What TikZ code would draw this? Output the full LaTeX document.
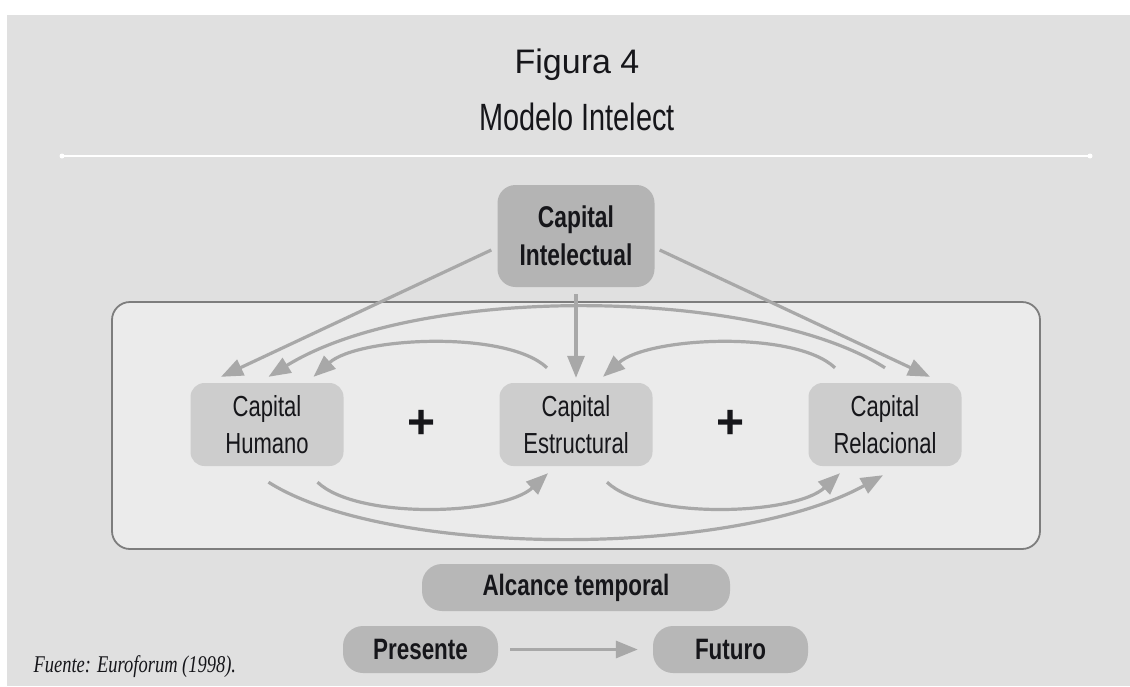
\documentclass[tikz,border=0pt]{standalone}
\usepackage{fontspec}
\setmainfont{Liberation Sans}
\newfontfamily\condfont[FakeStretch=0.76]{Liberation Sans}
\newfontfamily\fuentefont[FakeStretch=0.77]{Liberation Serif}
\usepackage{xcolor}
\usepackage{tikz}
\usetikzlibrary{positioning,arrows.meta,calc}
\definecolor{bgcolor}{RGB}{224,224,224}
\definecolor{framefill}{RGB}{235,235,235}
\definecolor{framecolor}{RGB}{125,125,125}
\definecolor{nodegray}{RGB}{205,205,205}
\definecolor{maingray}{RGB}{180,180,180}
\definecolor{timegray}{RGB}{183,183,183}
\definecolor{arrowgray}{RGB}{168,168,168}
\definecolor{textcolor}{RGB}{22,22,26}
\tikzset{
  cap node/.style={
    rounded corners=14pt,
    fill=nodegray,
    minimum width=153pt,
    minimum height=83pt,
    inner sep=0pt,
    align=center,
    text=textcolor,
    font=\condfont\fontsize{29}{37}\selectfont
  },
  cap main/.style={
    cap node,
    fill=maingray,
    minimum width=157pt,
    minimum height=102pt,
    rounded corners=18pt,
    font=\condfont\bfseries\fontsize{30}{38}\selectfont
  },
  time node/.style={
    rounded corners=20pt,
    fill=timegray,
    minimum height=47pt,
    inner sep=0pt,
    text=textcolor,
    font=\condfont\bfseries\fontsize{29.5}{34}\selectfont
  },
  frame box/.style={
    draw=framecolor,
    line width=1.8pt,
    fill=framefill,
    rounded corners=18pt,
    minimum width=928pt,
    minimum height=247pt
  },
  plus sign/.style={
    text=textcolor,
    font=\bfseries\fontsize{48}{48}\selectfont
  },
  arrow/.style={
    -{Triangle[length=22pt,width=17pt]},
    line width=3.2pt,
    draw=arrowgray
  }
}
\begin{document}
\begin{tikzpicture}[x=1pt, y=-1pt, node distance=309pt]

  % Page and background
  \useasboundingbox (0,0) rectangle (1130,686);
  \fill[white] (0,0) rectangle (1130,686);
  \fill[bgcolor] (7,15) rectangle (1130,686);

  % Title
  \node[anchor=base, text=textcolor, font=\fontsize{34}{38}\selectfont] (fig) at (577,73) {Figura 4};
  \node[anchor=base, text=textcolor, font=\condfont\fontsize{38}{42}\selectfont] (modelo) at (577,130) {Modelo Intelect};
  \draw[white, line width=2.2pt] (62,156) -- (1090,156);
  \fill[white] (62,156) circle (2.5) (1090,156) circle (2.5);

  % Frame round the three components
  \node[frame box] (marco) at (576,425.5) {};

  % Components
  \node[cap node] (hum) at (267,424.5) {Capital\\Humano};
  \node[cap node, right of=hum] (est) {Capital\\Estructural};
  \node[cap node, right of=est] (rel) {Capital\\Relacional};
  \node[cap main] (ci) at (576,236) {Capital\\Intelectual};

  % Plus signs
  \node[plus sign] (plus1) at ($(hum)!0.5!(est)$) {+};
  \node[plus sign] (plus2) at ($(est)!0.5!(rel)$) {+};

  % From intellectual capital
  \draw[arrow] ($(ci.west)+(-6,14)$) -- ($(hum.north)+(-46,-6)$);
  \draw[arrow] ($(ci.south)+(0,7)$) -- ($(est.north)+(0,-5)$);
  \draw[arrow] ($(ci.east)+(5,14)$) -- ($(rel.north)+(45,-6)$);

  % Arcs above (back to the left)
  \draw[arrow] ($(rel.north)+(0,-15)$) .. controls +(-125,-80) and +(152,-94) .. ($(hum.north)+(1.5,-6)$);
  \draw[arrow] ($(rel.north)+(-50,-15)$) .. controls +(-40,-38) and +(45,-40) .. ($(est.north)+(27,-6)$);
  \draw[arrow] ($(est.north)+(-29,-15)$) .. controls +(-40,-38) and +(45,-40) .. ($(hum.north)+(46.5,-6)$);

  % Arcs below (on to the right)
  \draw[arrow] ($(hum.south)+(50.5,16)$) .. controls +(40,38) and +(-45,42) .. ($(est.south)+(-28,7)$);
  \draw[arrow] ($(est.south)+(31,16)$) .. controls +(40,38) and +(-45,42) .. ($(rel.south)+(-45,7)$);
  \draw[arrow] ($(hum.south)+(1.5,16)$) .. controls +(120,76) and +(-150,83) .. ($(rel.south)+(-2,9)$);

  % Time span
  \node[time node, minimum width=308pt] (alcance) at (576,587.5) {Alcance temporal};
  \node[time node, minimum width=155pt] (presente) at (420.5,649.5) {Presente};
  \node[time node, minimum width=155pt] (futuro) at (730.5,649.5) {Futuro};
  \draw[arrow, shorten <=12pt, shorten >=15pt] (presente) -- (futuro);

  % Source
  \node[anchor=base west, text=textcolor, font=\fuentefont\itshape\fontsize{24}{28}\selectfont] (fuente) at (30,672) {Fuente: Euroforum (1998).};

\end{tikzpicture}
\end{document}
